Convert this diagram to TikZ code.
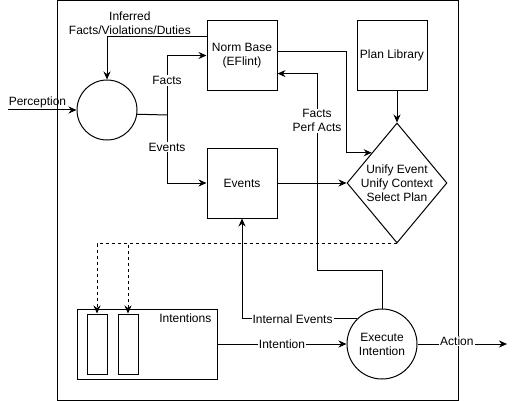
\documentclass[tikz,border=0pt]{standalone}
\usepackage{fontspec}
\setmainfont{Liberation Sans}
\usepackage{xcolor}
\usepackage{tikz}
\usetikzlibrary{positioning,arrows.meta,shapes.geometric}
\tikzset{
  node-box/.style={draw,line width=1pt,minimum width=70pt,minimum height=70pt,
    align=center,inner sep=1pt},
  node-state/.style={draw,line width=1pt,circle,align=center,inner sep=1pt},
  node-slot/.style={draw,line width=1pt,minimum width=20pt,minimum height=60pt,inner sep=0pt},
  node-choice/.style={draw,line width=1pt,diamond,minimum width=100pt,
    minimum height=120pt,inner sep=0pt},
  arrow/.style={-{Stealth[length=8pt,width=7pt]},line width=1pt},
  arrow-dash/.style={arrow,dash pattern=on 3pt off 3pt},
  line-plain/.style={line width=1pt},
  lbl/.style={fill=white,inner sep=1pt,align=center},
}

\begin{document}
\begin{tikzpicture}[x=1pt,y=-1pt,font=\fontsize{12}{14}\selectfont]
  \useasboundingbox (0,0) rectangle (516,401);
  % agent frame
  \node[draw,line width=1pt,minimum width=401pt,minimum height=399pt] (agent) at (257.5,200.5) {};
  % nodes
  \node[node-state,minimum size=60pt] (perc) at (107,110) {};
  \node[node-box] (normbase) at (242,55.5) {Norm Base\\(EFlint)};
  \node[node-box,right=79pt of normbase] (planlib) {Plan Library};
  \node[node-box,below=56.5pt of normbase] (events) {Events};
  \node[node-choice,label={[align=center]center:Unify Event\\Unify Context\\Select Plan}]
    (select) at (397,183) {};
  \node[draw,line width=1pt,minimum width=140pt,minimum height=70pt] (intents) at (147,344) {};
  \node[node-slot] (int1) at (97,344) {};
  \node[node-slot,right=10pt of int1] (int2) {};
  \node[anchor=north east,xshift=-5pt,yshift=-4pt,inner sep=1pt] (intents-lbl) at (intents.north east) {Intentions};
  \node[node-state,minimum size=70pt] (exec) at (382,344) {Execute\\Intention};
  \coordinate (perc-in) at (8,110);
  \coordinate (act-out) at (507,344);
  \coordinate (split) at (167,115);
  \coordinate (feedback) at (317,270);
  % connectors
  \draw[arrow] (perc-in) -- node[above,pos=0.43,inner sep=2pt]{Perception} (perc.west);
  \draw[line-plain] (perc.-8) -- (split);
  \draw[arrow] (split) |- node[lbl,pos=0.29]{Facts} (normbase.west);
  \draw[arrow] (split) |- node[lbl,pos=0.235]{Events} (events.west);
  \draw[arrow] (normbase.152) -| node[above,align=center,pos=0.385,inner sep=2pt]{Inferred\\Facts/Violations/Duties} (perc.north);
  \draw[arrow] (normbase.7) -| (select.west |- select.north west) -- (select.north west);
  \draw[arrow] (planlib.south -| select.north) -- (select.north);
  \draw[arrow] (events.east) -- (select.west);
  \draw[arrow-dash] (select.south) -| (int1.north);
  \draw[arrow-dash] (select.south) -| (int2.north);
  \draw[arrow] (exec.north) |- (feedback) |- node[lbl,pos=0.38]{Facts\\Perf Acts} (normbase.-27);
  \draw[arrow] (exec.north west) -| node[lbl,pos=0.28]{Internal Events} (events.south);
  \draw[arrow] (intents.east) -- node[lbl]{Intention} (exec.west);
  \draw[arrow] (exec.east) -- node[lbl,pos=0.44,yshift=3pt]{Action} (act-out);
\end{tikzpicture}
\end{document}
